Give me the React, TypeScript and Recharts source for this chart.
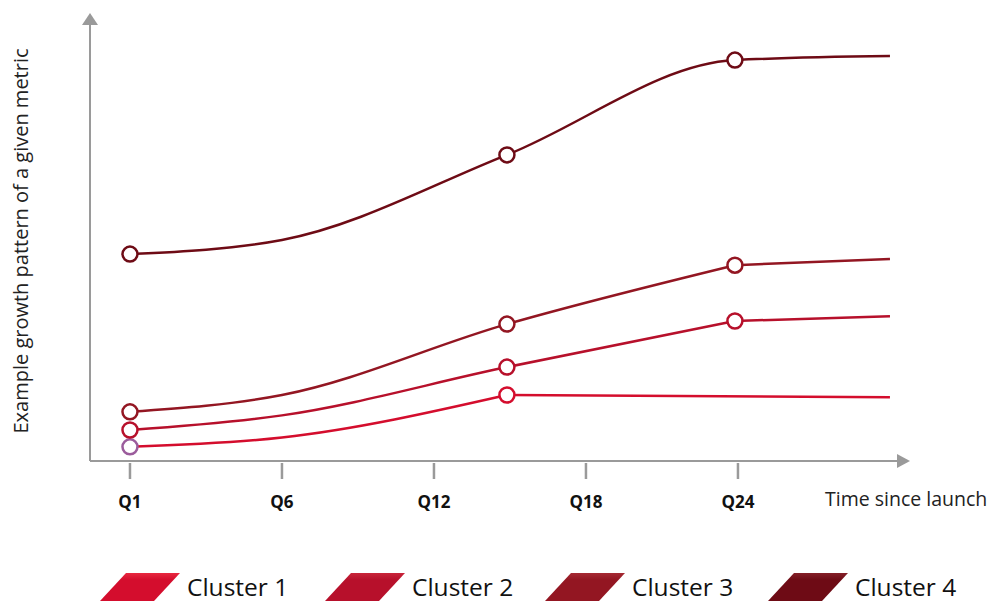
import { LineChart, Line, XAxis, YAxis } from 'recharts'

// x positions are tick slots (Q1, Q6, Q12, Q18, Q24 are evenly spaced on the axis)
const TICKS = [0, 1, 2, 3, 4]
const TICK_LABELS = ['Q1', 'Q6', 'Q12', 'Q18', 'Q24']

const CLUSTER_1_X = [0, 1, 2.48, 5]
const CLUSTER_1 = [3.2, 5.3, 14.9, 14.4]
const CLUSTER_2_X = [0, 1, 2.48, 3.98, 5]
const CLUSTER_2 = [7.0, 10.3, 21.2, 31.6, 32.7]
const CLUSTER_3_X = [0, 1, 2.48, 3.98, 5]
const CLUSTER_3 = [11.1, 14.9, 30.9, 44.2, 45.6]
const CLUSTER_4_X = [0, 1, 2.48, 3.98, 5]
const CLUSTER_4 = [46.7, 49.9, 69.1, 90.5, 91.4]

const SERIES_NAMES = ['Cluster 1', 'Cluster 2', 'Cluster 3', 'Cluster 4']
// points that carry a circle marker
const MARKED = [
  [0, 2],
  [0, 2, 3],
  [0, 2, 3],
  [0, 2, 3],
]
// from this point on the line runs straight to its end (null = smooth all the way)
const TAIL_FROM = [2, 3, 3, null]

const COLORS = ['#d40d2d', '#b7102b', '#931622', '#6e0b15']
const LIGHT = ['#e8283f', '#c8253a', '#a52a33', '#842028']
const FIRST_MARKER_1 = '#9b5c9c'
const AXIS = '#9a9a9a'
const FONT = '"Open Sans", "DejaVu Sans", sans-serif'

const XS = [CLUSTER_1_X, CLUSTER_2_X, CLUSTER_3_X, CLUSTER_4_X]
const YS = [CLUSTER_1, CLUSTER_2, CLUSTER_3, CLUSTER_4]

const seriesData = XS.map((xs, s) => xs.map((x, i) => ({ x, y: YS[s][i] })))

const makeDot = (marked: number[], color: string, firstColor?: string) => (props: any) => {
  const { cx, cy, index } = props
  if (!marked.includes(index)) return <g key={`n-${index}`} />
  return (
    <circle
      key={`d-${index}`}
      cx={cx}
      cy={cy}
      r={7.5}
      fill="#fff"
      stroke={index === 0 && firstColor ? firstColor : color}
      strokeWidth={2.5}
    />
  )
}

const QTick = (props: any) => {
  const { x, y, payload } = props
  return (
    <g>
      <line x1={x} y1={y} x2={x} y2={y + 16} stroke={AXIS} strokeWidth={2.5} />
      <text x={x} y={y + 45} textAnchor="middle" fontFamily={FONT} fontWeight={700} fontSize={17} fill="#111">
        {TICK_LABELS[TICKS.indexOf(payload.value)]}
      </text>
    </g>
  )
}

const XEnd = (props: any) => {
  const { x, y, width } = props.viewBox
  const end = x + width
  return (
    <g>
      <polygon points={`${end - 8},${y - 7} ${end + 5},${y} ${end - 8},${y + 7}`} fill={AXIS} />
      <text x={end - 80} y={y + 45} fontFamily={FONT} fontSize={19.5} fill="#222">
        Time since launch
      </text>
    </g>
  )
}

const YEnd = (props: any) => {
  const { x, y, width } = props.viewBox
  const ax = x + (width || 0)
  return (
    <g>
      <polygon points={`${ax - 8},${y + 7} ${ax},${y - 5} ${ax + 8},${y + 7}`} fill={AXIS} />
      <text
        x={20}
        y={241}
        transform="rotate(-90 20 241)"
        textAnchor="middle"
        dominantBaseline="central"
        fontFamily={FONT}
        fontSize={20}
        fill="#222"
      >
        Example growth pattern of a given metric
      </text>
    </g>
  )
}

function LegendRow() {
  const lefts = [100, 325, 545, 768]
  return (
    <div style={{ position: 'absolute', left: 0, top: 572, width: 990, height: 30 }}>
      {SERIES_NAMES.map((name, i) => (
        <div
          key={name}
          style={{
            position: 'absolute',
            left: lefts[i],
            top: 0,
            width: 200,
            height: 30,
            display: 'flex',
            alignItems: 'center',
            whiteSpace: 'nowrap',
          }}
        >
          <svg width={80} height={28} style={{ flex: 'none' }}>
            <defs>
              <linearGradient id={`lg${i}`} x1="0" y1="0" x2="0" y2="1">
                <stop offset="0" stopColor={LIGHT[i]} />
                <stop offset="0.25" stopColor={COLORS[i]} />
                <stop offset="1" stopColor={COLORS[i]} />
              </linearGradient>
            </defs>
            <polygon points="0,28 26,0 80,0 54,28" fill={`url(#lg${i})`} />
          </svg>
          <span style={{ marginLeft: 7, fontFamily: FONT, fontSize: 24.5, color: '#111', lineHeight: '30px' }}>{name}</span>
        </div>
      ))}
    </div>
  )
}

export default function App() {
  const firsts = [FIRST_MARKER_1, undefined, undefined, undefined]
  return (
    <div style={{ position: 'absolute', left: 0, top: 0, width: 990, height: 602, background: '#fff' }}>
      <LineChart width={990} height={602} margin={{ top: 18, right: 85, left: 89, bottom: 81 }}>
        <XAxis
          dataKey="x"
          type="number"
          domain={[-0.263, 5.099]}
          ticks={TICKS}
          allowDataOverflow
          height={60}
          tickSize={0}
          tickLine={false}
          axisLine={{ stroke: AXIS, strokeWidth: 2 }}
          tick={<QTick />}
          label={<XEnd />}
        />
        <YAxis
          type="number"
          domain={[0, 100]}
          width={1}
          tick={false}
          tickLine={false}
          axisLine={{ stroke: AXIS, strokeWidth: 2 }}
          label={<YEnd />}
        />
        {seriesData.map((pts, i) => {
          const tail = TAIL_FROM[i]
          const curve = tail === null ? pts : pts.slice(0, tail + 1)
          return [
            tail !== null && (
              <Line
                key={`tail-${i}`}
                type="linear"
                data={pts.slice(tail)}
                dataKey="y"
                stroke={COLORS[i]}
                strokeWidth={2.5}
                dot={false}
                activeDot={false}
                legendType="none"
                isAnimationActive={false}
              />
            ),
            <Line
              key={`curve-${i}`}
              type="monotone"
              data={curve}
              dataKey="y"
              name={SERIES_NAMES[i]}
              stroke={COLORS[i]}
              strokeWidth={2.5}
              dot={makeDot(MARKED[i], COLORS[i], firsts[i])}
              activeDot={false}
              isAnimationActive={false}
            />,
          ]
        })}
      </LineChart>
      <LegendRow />
    </div>
  )
}
